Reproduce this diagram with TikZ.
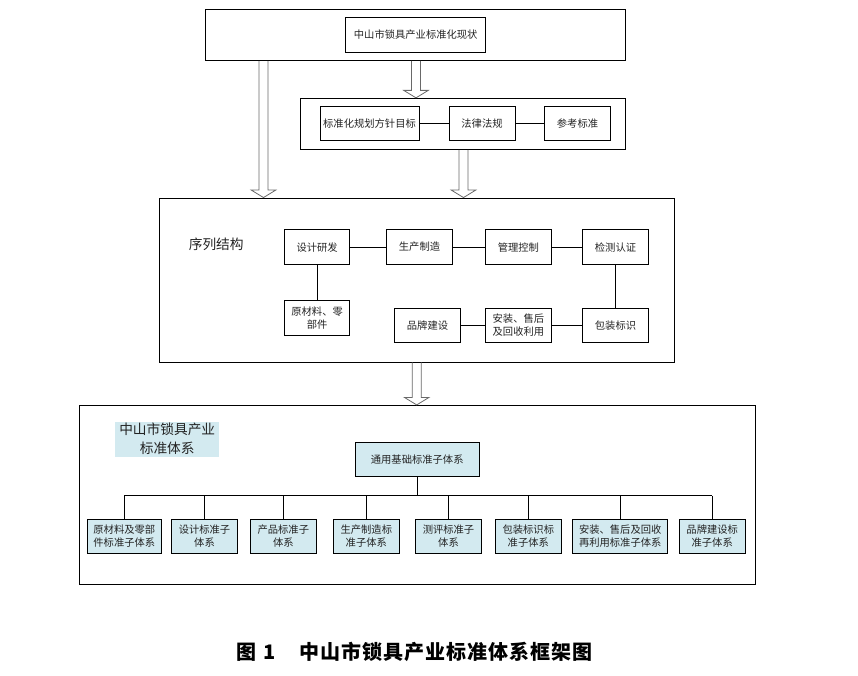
\documentclass[tikz,border=0pt]{standalone}
\usepackage{fontspec}
\setmainfont{Noto Sans CJK SC}
\usetikzlibrary{calc}
\definecolor{boxblue}{RGB}{211,234,240}
\definecolor{txt}{RGB}{35,35,35}
\definecolor{arrowgray}{RGB}{105,105,105}
\newcommand\hollowarrow[2]{%
  \draw[arrowsty] ($(#1)+(-4.5,0)$) -- ($(#2)+(-4.5,-7.5)$) -- ($(#2)+(-12.3,-7.5)$) -- (#2)
    -- ($(#2)+(12.3,-7.5)$) -- ($(#2)+(4.5,-7.5)$) -- ($(#1)+(4.5,0)$);}
\begin{document}
\begin{tikzpicture}[x=1pt,y=-1pt,
  frame/.style 2 args={draw=black, line width=0.9pt, minimum width=#1pt, minimum height=#2pt, inner sep=0pt},
  bx/.style 2 args={draw=black, line width=0.9pt, text=txt, font=\fontsize{10.3}{13.3}\selectfont,
    align=center, inner sep=0pt, minimum width=#1pt, minimum height=#2pt},
  bbx/.style 2 args={bx={#1}{#2}, fill=boxblue},
  link/.style={draw=black, line width=0.9pt},
  arrowsty/.style={draw=arrowgray, line width=0.8pt, line join=miter}]
\useasboundingbox (0,0) rectangle (858,675);
% frames
\node[frame={420.5}{51.3}] (top) at (415.3,34.7) {};
\node[frame={325.4}{51}] (mid) at (463,123.8) {};
\node[frame={514.6}{164}] (seq) at (416.7,280) {};
\node[frame={676.4}{178.7}] (sys) at (417.5,494.7) {};
% top content
\node[bx={140}{35}] (now) at (415.7,34.8) {中山市锁具产业标准化现状};
\node[bx={99}{34}] (plan) at (369.5,123.2) {标准化规划方针目标};
\node[bx={66}{34}] (law) at (482,123.2) {法律法规};
\node[bx={65.3}{34}] (ref) at (577.5,123.2) {参考标准};
\draw[link] (plan) -- (law);
\draw[link] (law) -- (ref);
% sequence structure
\node[text=txt, font=\fontsize{13.7}{16}\selectfont, inner sep=0pt] (seqlabel) at (216.2,244.5) {序列结构};
\node[bx={65.2}{34.5}] (design) at (317.1,247.1) {设计研发};
\node[bx={66.6}{34.5}] (prod) at (419.5,247.1) {生产制造};
\node[bx={66.3}{34.5}] (mgmt) at (518.4,247.1) {管理控制};
\node[bx={66.3}{34.5}] (test) at (615.5,247.1) {检测认证};
\node[bx={65.2}{35.2}] (raw) at (317.1,317.8) {原材料、零\\部件};
\node[bx={66.2}{34.5}] (brand) at (427.5,325.3) {品牌建设};
\node[bx={66.3}{34.5}] (install) at (518.4,325.3) {安装、售后\\及回收利用};
\node[bx={66.3}{34.5}] (pack) at (615.5,325.3) {包装标识};
\draw[link] (design) -- (prod);
\draw[link] (prod) -- (mgmt);
\draw[link] (mgmt) -- (test);
\draw[link] (design) -- (raw);
\draw[link] (test) -- (pack);
\draw[link] (pack) -- (install);
\draw[link] (install) -- (brand);
% block arrows
\coordinate (xa) at (263.5,0);
\coordinate (xb) at (416,0);
\coordinate (xc) at (463.5,0);
\coordinate (xd) at (416.7,0);
\coordinate (a1s) at (top.south -| xa);
\coordinate (a1e) at (seq.north -| xa);
\coordinate (a2s) at (top.south -| xb);
\coordinate (a2e) at (mid.north -| xb);
\coordinate (a3s) at (mid.south -| xc);
\coordinate (a3e) at (seq.north -| xc);
\coordinate (a4s) at (seq.south -| xd);
\coordinate (a4e) at (sys.north -| xd);
\hollowarrow{a1s}{a1e}
\hollowarrow{a2s}{a2e}
\hollowarrow{a3s}{a3e}
\hollowarrow{a4s}{a4e}
% standard system
\node[fill=boxblue, text=txt, font=\fontsize{13.7}{19}\selectfont, align=center, inner sep=0pt,
  minimum width=104.3pt, minimum height=35pt] (syslabel) at (167.2,439.2) {中山市锁具产业\\标准体系};
\node[bbx={124.3}{33.7}] (gen) at (417.2,459.2) {通用基础标准子体系};
\node[bbx={74.7}{34}] (b1) at (124.3,536.3) {原材料及零部\\件标准子体系};
\node[bbx={65.6}{34}] (b2) at (204.5,536.3) {设计标准子\\体系};
\node[bbx={66}{34}] (b3) at (283.3,536.3) {产品标准子\\体系};
\node[bbx={66}{34}] (b4) at (366.3,536.3) {生产制造标\\准子体系};
\node[bbx={66.4}{34}] (b5) at (448.5,536.3) {测评标准子\\体系};
\node[bbx={66.7}{34}] (b6) at (528.3,536.3) {包装标识标\\准子体系};
\node[bbx={95}{34}] (b7) at (620.2,536.3) {安装、售后及回收\\再利用标准子体系};
\node[bbx={65.7}{34}] (b8) at (712.2,536.3) {品牌建设标\\准子体系};
\coordinate (busy) at (0,495.7);
\draw[link] (gen.south) -- (gen.south |- busy);
\draw[link] (b1.north |- busy) -- (b8.north |- busy);
\foreach \b in {b1,b2,b3,b4,b5,b6,b7,b8}{\draw[link] (\b.north |- busy) -- (\b.north);}
% caption
\node[font=\fontsize{20}{24}\selectfont\bfseries\addfontfeature{LetterSpace=5}, inner sep=0pt] (caption) at (414.5,652) {图\hspace{7pt}1\hspace{24pt}中山市锁具产业标准体系框架图};
\end{tikzpicture}
\end{document}
